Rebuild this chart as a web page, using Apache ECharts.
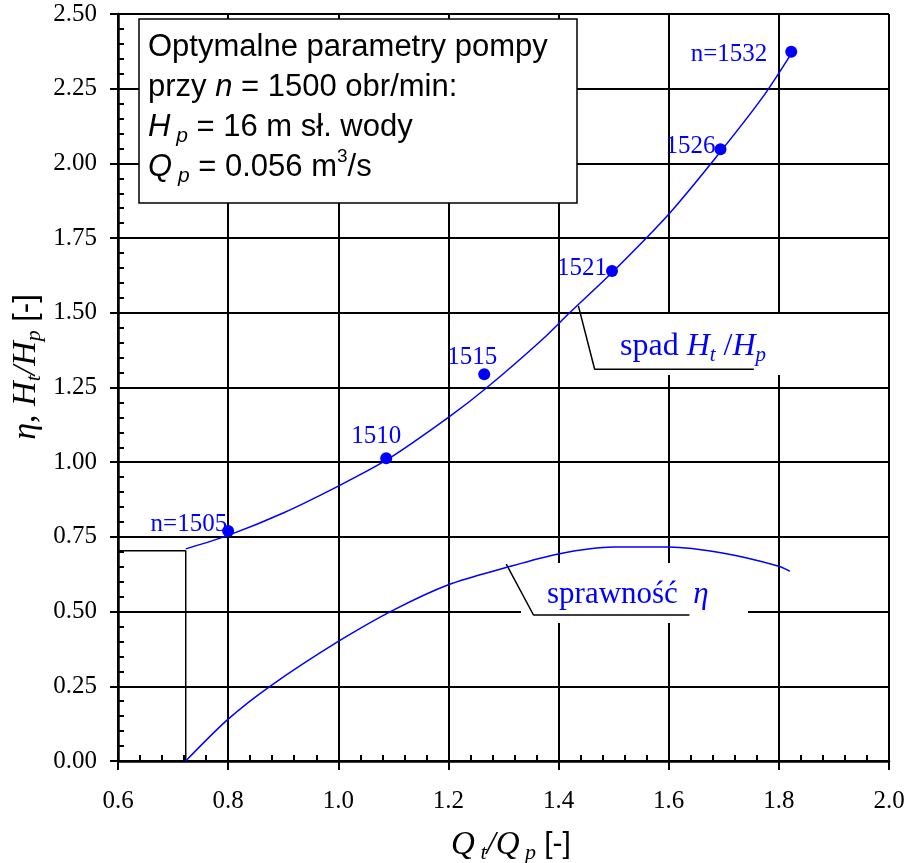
<!DOCTYPE html>
<html><head><meta charset="utf-8">
<script src="https://cdn.jsdelivr.net/npm/echarts@6/dist/echarts.min.js"></script>
<style>html,body{margin:0;padding:0;background:#fff}#c{width:909px;height:863px}</style>
</head><body><div id="c"></div>
<script>
// ---- data ----
const xTickLabels = ['0.6','0.8','1.0','1.2','1.4','1.6','1.8','2.0'];
const yTickLabels = ['0.00','0.25','0.50','0.75','1.00','1.25','1.50','1.75','2.00','2.25','2.50'];
const headX = [0.723, 0.80, 0.90, 1.00, 1.09, 1.20, 1.27, 1.37, 1.42, 1.50, 1.60, 1.69, 1.77, 1.82];
const headY = [0.71, 0.755, 0.83, 0.92, 1.01, 1.15, 1.25, 1.41, 1.50, 1.64, 1.83, 2.03, 2.22, 2.36];
const effX = [0.723, 0.80, 0.876, 1.00, 1.10, 1.20, 1.30, 1.40, 1.50, 1.60, 1.70, 1.80, 1.82];
const effY = [0.00, 0.14, 0.25, 0.40, 0.505, 0.59, 0.645, 0.693, 0.716, 0.716, 0.695, 0.652, 0.635];
const ptX = [0.80, 1.087, 1.265, 1.497, 1.694, 1.8225];
const ptY = [0.77, 1.013, 1.294, 1.64, 2.047, 2.374];
const ptLabels = ['n=1505', '1510', '1515', '1521', '1526', 'n=1532'];
const dropX = [0.6, 0.723, 0.723];
const dropY = [0.704, 0.704, 0.0];
const leadHX = [1.436, 1.4655, 1.7545];
const leadHY = [1.523, 1.311, 1.311];
const leadEX = [1.305, 1.3545, 1.6376];
const leadEY = [0.659, 0.4886, 0.4886];

// ---- helpers ----
const zip = (a, b) => a.map((v, i) => [v, b[i]]);
const SERIF = 'Liberation Serif';
const SANS = 'Liberation Sans';
const BLUE = '#0000ff';
const labelPlace = [
  {align: 'right', offset: [-1, -6]},
  {align: 'center', offset: [-10, -22]},
  {align: 'center', offset: [-12, -17]},
  {align: 'right', offset: [-5, -3]},
  {align: 'right', offset: [-5, -3]},
  {align: 'right', offset: [-24, 3]}
];

const tickFont = {fontFamily: SERIF, fontSize: 25, color: '#000'};
const black = '#000';

const chart = echarts.init(document.getElementById('c'), null, {renderer: 'canvas'});

const serifRich = (size, sub, color) => ({
  n: {fontFamily: SERIF, fontSize: size, lineHeight: 38, fill: color},
  i: {fontFamily: SERIF, fontSize: size, fontStyle: 'italic', lineHeight: 38, fill: color},
  s: {fontFamily: SERIF, fontSize: sub, fontStyle: 'italic', lineHeight: 28, verticalAlign: 'bottom', fill: color},
  a: {fontFamily: SANS, fontSize: size - 3, lineHeight: 38, fill: color}
});
const sansRich = {
  n: {fontFamily: SANS, fontSize: 31, lineHeight: 40, fill: '#000'},
  i: {fontFamily: SANS, fontSize: 31, fontStyle: 'italic', lineHeight: 40, fill: '#000'},
  s: {fontFamily: SANS, fontSize: 21, fontStyle: 'italic', lineHeight: 30, verticalAlign: 'bottom', fill: '#000'},
  u: {fontFamily: SANS, fontSize: 19, lineHeight: 27, verticalAlign: 'top', fill: '#000'}
};

const option = {
  backgroundColor: '#fff',
  animation: false,
  grid: {left: 118, right: 20, top: 14, bottom: 102, containLabel: false},
  xAxis: [{
    type: 'value', min: 0.6, max: 2.0, interval: 0.2, position: 'bottom',
    axisLine: {onZero: false, lineStyle: {color: black, width: 2.5}},
    axisTick: {show: true, inside: false, length: 9, lineStyle: {color: black, width: 2}},
    minorTick: {show: false},
    splitLine: {show: true, lineStyle: {color: black, width: 2}},
    axisLabel: {margin: 28, ...tickFont, formatter: (v) => xTickLabels[Math.round((v - 0.6) / 0.2)]}
  }, {
    type: 'value', min: 0.6, max: 2.0, interval: 0.2, position: 'bottom',
    axisLine: {show: false, onZero: false},
    axisTick: {show: false, inside: true},
    minorTick: {show: true, splitNumber: 5, length: 6, lineStyle: {color: black, width: 2}},
    splitLine: {show: false},
    axisLabel: {show: false}
  }],
  yAxis: [{
    type: 'value', min: 0, max: 2.5, interval: 0.25, position: 'left',
    axisLine: {onZero: false, lineStyle: {color: black, width: 2.5}},
    axisTick: {show: true, inside: false, length: 8, lineStyle: {color: black, width: 2}},
    minorTick: {show: false},
    splitLine: {show: true, lineStyle: {color: black, width: 2}},
    axisLabel: {margin: 21, ...tickFont, formatter: (v) => yTickLabels[Math.round(v / 0.25)]}
  }, {
    type: 'value', min: 0, max: 2.5, interval: 0.25, position: 'left',
    axisLine: {show: false, onZero: false},
    axisTick: {show: false, inside: true},
    minorTick: {show: true, splitNumber: 5, length: 6, lineStyle: {color: black, width: 2}},
    splitLine: {show: false},
    axisLabel: {show: false}
  }],
  series: [
    {type: 'line', name: 'spad', data: zip(headX, headY), smooth: 0.3, symbol: 'none',
     lineStyle: {color: BLUE, width: 1.5}, silent: true, z: 3},
    {type: 'line', name: 'sprawnosc', data: zip(effX, effY), smooth: 0.3, symbol: 'none',
     lineStyle: {color: BLUE, width: 1.5}, silent: true, z: 3},
    {type: 'line', name: 'drop', data: zip(dropX, dropY), symbol: 'none',
     lineStyle: {color: black, width: 1.5}, silent: true, z: 2},
    {type: 'line', name: 'leadH', data: zip(leadHX, leadHY), symbol: 'none',
     lineStyle: {color: black, width: 1.5}, silent: true, z: 2},
    {type: 'line', name: 'leadE', data: zip(leadEX, leadEY), symbol: 'none',
     lineStyle: {color: black, width: 1.5}, silent: true, z: 2},
    {type: 'scatter', name: 'n', symbol: 'circle', symbolSize: 12, z: 4,
     itemStyle: {color: BLUE, opacity: 1},
     data: ptX.map((x, i) => ({
       value: [x, ptY[i]],
       label: {show: true, position: 'inside', formatter: ptLabels[i], color: BLUE,
               fontFamily: SERIF, fontSize: 25, verticalAlign: 'middle',
               align: labelPlace[i].align, offset: labelPlace[i].offset}
     }))}
  ],
  graphic: {elements: [
    // label backgrounds (hide grid lines)
    {type: 'rect', z: 1, silent: true, shape: {x: 588, y: 314, width: 212, height: 61}, style: {fill: '#fff'}},
    {type: 'text', z: 1, silent: true, x: 620, y: 347,
     style: {text: '{n|spad }{i|H}{s|t}{n| /}{i|H}{s|p}', rich: serifRich(32, 21, BLUE), verticalAlign: 'middle', align: 'left'}},
    {type: 'rect', z: 1, silent: true, shape: {x: 521, y: 563, width: 227, height: 60}, style: {fill: '#fff'}},
    {type: 'text', z: 1, silent: true, x: 547, y: 595,
     style: {text: '{n|sprawność  }{i|η}', rich: serifRich(31, 21, BLUE), verticalAlign: 'middle', align: 'left'}},
    // parameter box
    {type: 'rect', z: 10, silent: true, shape: {x: 139, y: 19, width: 438, height: 184},
     style: {fill: '#fff', stroke: '#000', lineWidth: 1.5}},
    {type: 'text', z: 11, silent: true, x: 148, y: 27,
     style: {text: '{n|Optymalne parametry pompy}\n{n|przy }{i|n}{n| = 1500 obr/min:}\n{i|H}{s| p}{n| = 16 m sł. wody}\n{i|Q}{s| p}{n| = 0.056 m}{u|3}{n|/s}',
             rich: sansRich, verticalAlign: 'top', align: 'left'}},
    // axis titles
    {type: 'text', z: 10, silent: true, x: 26, y: 367, rotation: Math.PI / 2,
     style: {text: '{i|η}{n|, }{i|H}{s|t}{i|/H}{s|p}{n| }{a|[-]}', rich: serifRich(34, 22, '#000'), align: 'center', verticalAlign: 'middle'}},
    {type: 'text', z: 10, silent: true, x: 511, y: 845,
     style: {text: '{i|Q}{s| t}{i|/Q}{s| p}{n| }{a|[-]}', rich: serifRich(33, 22, '#000'), align: 'center', verticalAlign: 'middle'}}
  ]}
};
chart.setOption(option);
</script>
</body></html>
